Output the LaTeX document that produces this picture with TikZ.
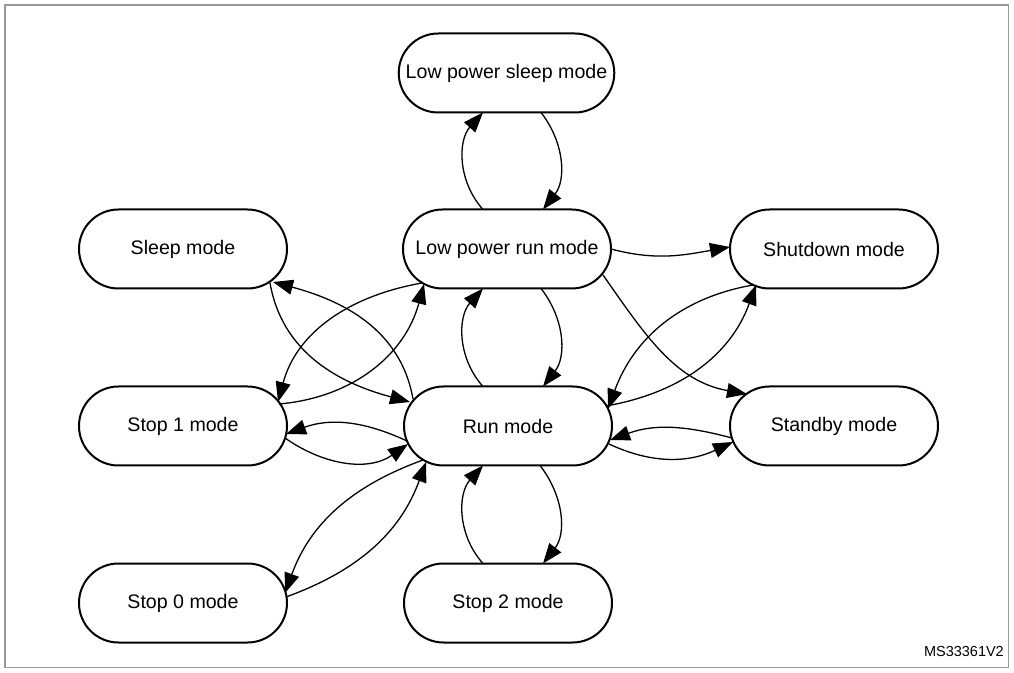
\documentclass[tikz,border=0pt]{standalone}
\usepackage{fontspec}
\setmainfont{Liberation Sans}
\usetikzlibrary{arrows.meta,calc}
\begin{document}
\begin{tikzpicture}[x=1pt,y=1pt,
  modebox/.style={draw, line width=2pt, rounded corners=39.5pt, minimum width=208pt, minimum height=79pt, inner xsep=7pt, font=\fontsize{19.6}{23}\selectfont},
  tr/.style={line width=1.3pt, -{Triangle[length=20pt,width=15pt]}}]
\useasboundingbox (0,0) rectangle (1014,672);
\draw[gray!80, line width=1.6pt] (5,4.5) rectangle (1008.5,667);

\node[modebox] (lps) at (506.5,599) {Low power sleep mode};
\node[modebox] (sleep) at (183,423) {Sleep mode};
\node[modebox] (lpr) at (507,423) {Low power run mode};
\node[modebox] (shut) at (834,423) {Shutdown mode};
\node[modebox] (stop1) at (183,246) {Stop 1 mode};
\node[modebox] (run) at (508,246) {Run mode};
\node[modebox] (standby) at (834,246) {Standby mode};
\node[modebox] (stop0) at (183,69) {Stop 0 mode};
\node[modebox] (stop2) at (508,69) {Stop 2 mode};

\node[anchor=base east, font=\fontsize{14.5}{16}\selectfont, inner sep=0pt] (id) at (1004,16) {MS33361V2};

% vertical pairs
\draw[tr] ($(lpr)+(-24,39.5)$) to[out=132,in=-132] ($(lps)+(-23.5,-39.5)$);
\draw[tr] ($(lps)+(34.5,-39.5)$) to[out=-52,in=52] ($(lpr)+(36,39.5)$);
\draw[tr] ($(run)+(-25,39.5)$) to[out=132,in=-132] ($(lpr)+(-24,-39.5)$);
\draw[tr] ($(lpr)+(34,-39.5)$) to[out=-52,in=52] ($(run)+(35,39.5)$);
\draw[tr] ($(stop2)+(-25,39.5)$) to[out=132,in=-132] ($(run)+(-25,-39.5)$);
\draw[tr] ($(run)+(32,-39.5)$) to[out=-52,in=52] ($(stop2)+(35,39.5)$);

% left side
\draw[tr] ($(sleep)+(87,-34)$) to[out=-80,in=165] ($(run)+(-98,24)$);
\draw[tr] ($(run)+(-95,27)$) to[out=100,in=-15] ($(sleep)+(90,-33)$);
\draw[tr] ($(lpr)+(-85,-34)$) to[out=190,in=75] ($(stop1)+(95,24)$);
\draw[tr] ($(stop1)+(96,22)$) to[out=5,in=-105] ($(lpr)+(-83,-35)$);
\draw[tr] ($(run)+(-101,-15)$) to[out=155,in=20] ($(stop1)+(103,-8)$);
\draw[tr] ($(stop1)+(102,-12)$) to[out=-35,in=-145] ($(run)+(-100,-18)$);
\draw[tr] ($(run)+(-85,-34)$) to[out=200,in=70] ($(stop0)+(102,10)$);
\draw[tr] ($(stop0)+(103,6)$) to[out=20,in=-110] ($(run)+(-82,-36)$);

% right side
\draw[tr] ($(lpr)+(104,0)$) to[out=-15,in=-170] ($(shut)+(-104,2)$);
\draw[tr] ($(lpr)+(96,-26)$) to[out=-55,in=170] ($(standby)+(-87,32)$);
\draw[tr] ($(shut)+(-81,-36)$) to[out=190,in=70] ($(run)+(100,17)$);
\draw[tr] ($(run)+(98,20)$) to[out=10,in=-110] ($(shut)+(-78,-36)$);
\draw[tr] ($(standby)+(-102,-12)$) to[out=165,in=20] ($(run)+(102,-14)$);
\draw[tr] ($(run)+(101,-18)$) to[out=-25,in=-155] ($(standby)+(-101,-16)$);
\end{tikzpicture}
\end{document}
